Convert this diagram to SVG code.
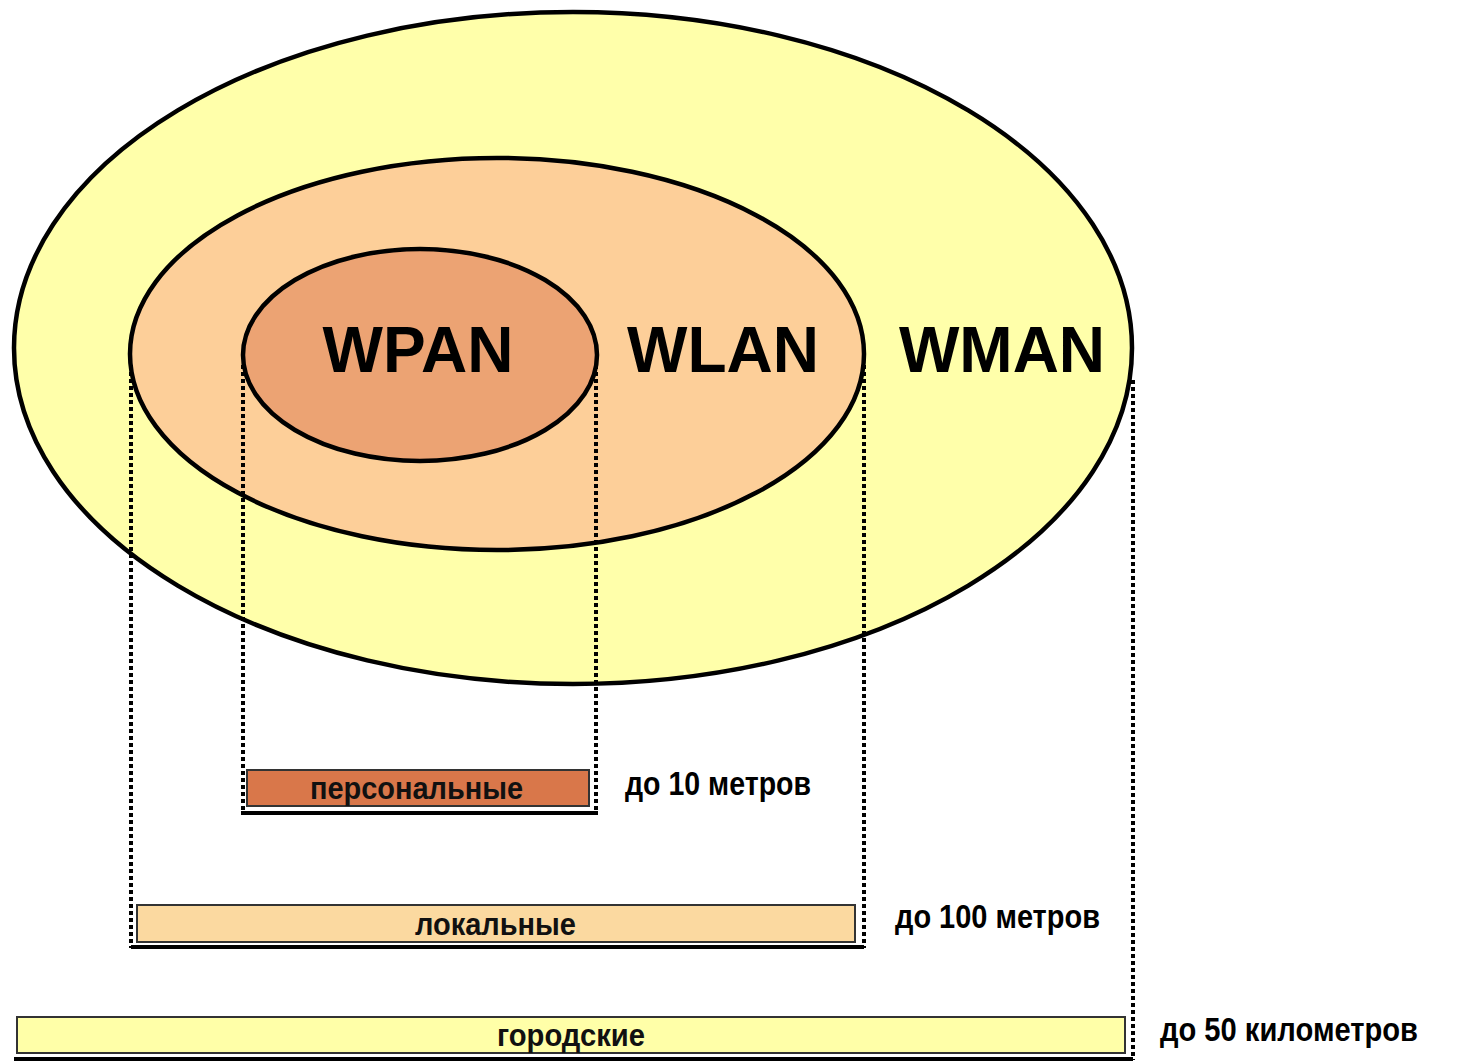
<svg xmlns="http://www.w3.org/2000/svg" width="1464" height="1063" viewBox="0 0 1464 1063">
<style>
.ell{stroke:#000;stroke-width:4.5}
.dot{stroke:#000;stroke-width:4;stroke-dasharray:4 3;fill:none}
.big{font-family:"Liberation Sans",Arial,sans-serif;font-weight:bold;font-size:64px;fill:#000;text-anchor:middle}
.bar{stroke:#333;stroke-width:2}
.shadow{stroke:#000;stroke-width:4}
.bt{font-family:"Liberation Sans",Arial,sans-serif;font-weight:bold;font-size:31px;fill:#111}
.lab{font-family:"Liberation Sans",Arial,sans-serif;font-weight:bold;font-size:33px;fill:#000}
</style>
<rect width="1464" height="1063" fill="#fff"/>
<g id="wman"><ellipse class="ell" cx="573" cy="348" rx="559" ry="336" fill="#FFFFAA"/></g>
<g id="wlan"><ellipse class="ell" cx="497" cy="354" rx="367" ry="196" fill="#FDCF99"/></g>
<g id="wpan"><ellipse class="ell" cx="420" cy="355" rx="177" ry="106" fill="#ECA373"/></g>
<g id="labels">
<text class="big" x="418" y="372">WPAN</text>
<text class="big" x="723" y="372">WLAN</text>
<text class="big" x="1002" y="372">WMAN</text>
</g>
<g id="connectors">
<line class="dot" x1="131" y1="365" x2="131" y2="948"/>
<line class="dot" x1="243" y1="365" x2="243" y2="814"/>
<line class="dot" x1="596" y1="365" x2="596" y2="814"/>
<line class="dot" x1="864" y1="365" x2="864" y2="948"/>
<line class="dot" x1="1133" y1="380" x2="1133" y2="1060"/>
</g>
<g id="bar-personal">
<line class="shadow" x1="241" y1="813" x2="598" y2="813"/>
<rect class="bar" x="247" y="770" width="342" height="36" fill="#D9774A"/>
<text class="bt" x="310" y="799" textLength="213" lengthAdjust="spacingAndGlyphs">персональные</text>
<text class="lab" x="625" y="795" textLength="186" lengthAdjust="spacingAndGlyphs">до 10 метров</text>
</g>
<g id="bar-local">
<line class="shadow" x1="131" y1="947" x2="864" y2="947"/>
<rect class="bar" x="137" y="905" width="718" height="37" fill="#FBD9A0"/>
<text class="bt" x="415" y="935" textLength="161" lengthAdjust="spacingAndGlyphs">локальные</text>
<text class="lab" x="895" y="928" textLength="205" lengthAdjust="spacingAndGlyphs">до 100 метров</text>
</g>
<g id="bar-city">
<line class="shadow" x1="14" y1="1059" x2="1133" y2="1059"/>
<rect class="bar" x="17" y="1017" width="1108" height="36" fill="#FFFFA8"/>
<text class="bt" x="497" y="1046" textLength="148" lengthAdjust="spacingAndGlyphs">городские</text>
<text class="lab" x="1160" y="1041" textLength="258" lengthAdjust="spacingAndGlyphs">до 50 километров</text>
</g>
</svg>
